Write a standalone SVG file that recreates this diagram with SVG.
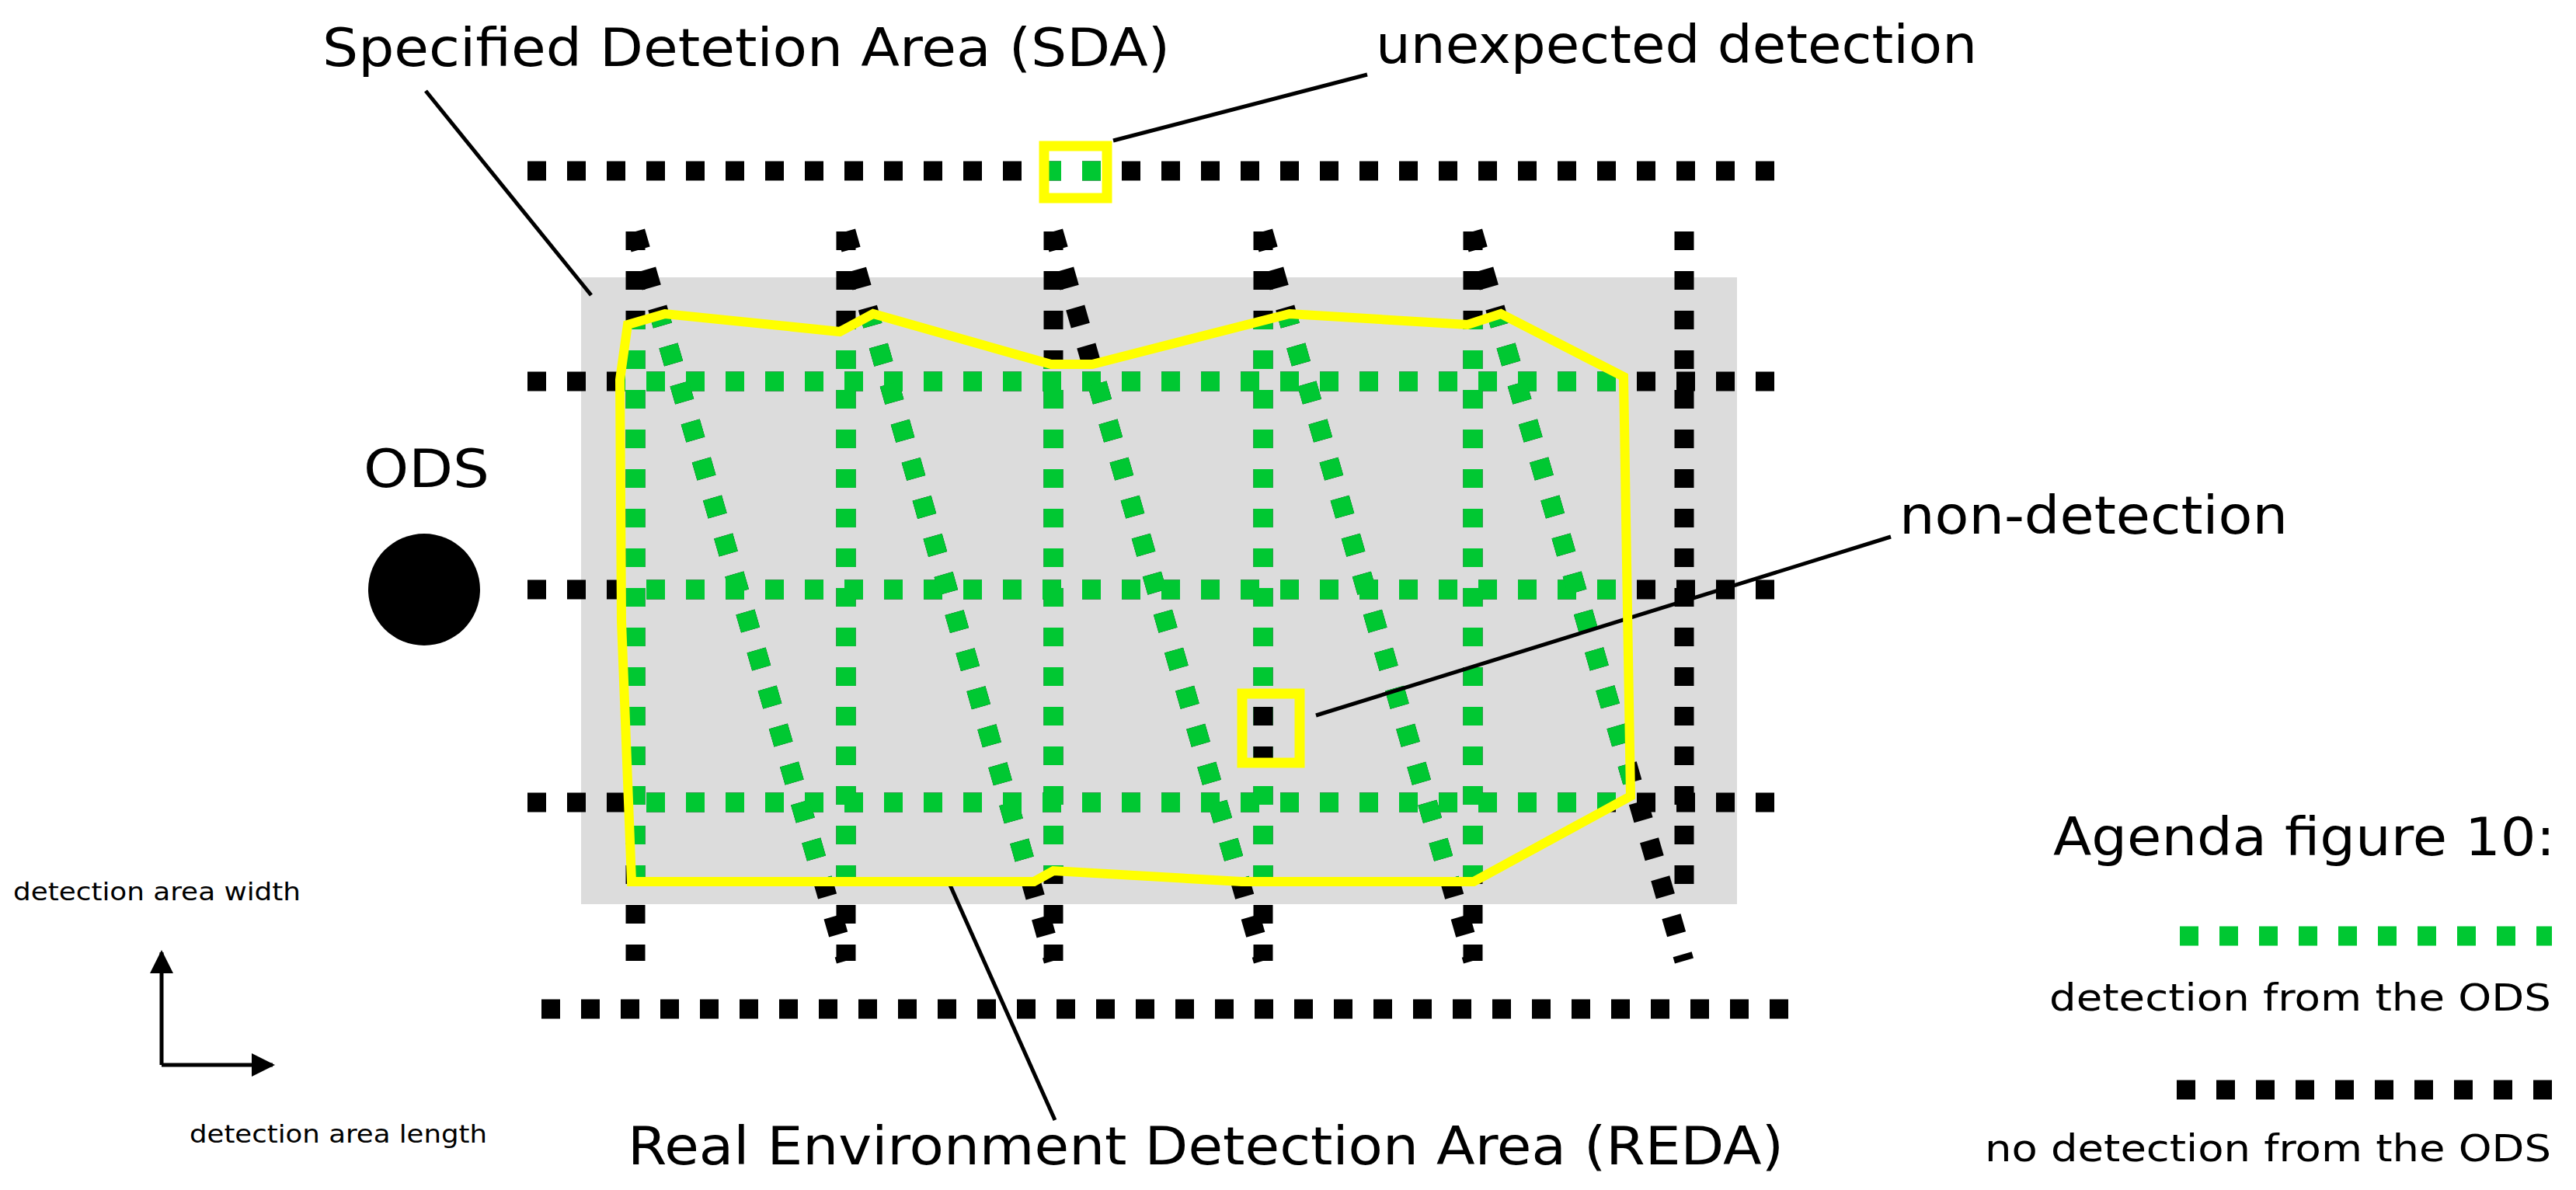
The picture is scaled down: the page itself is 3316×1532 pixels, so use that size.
<svg xmlns="http://www.w3.org/2000/svg" xmlns:xlink="http://www.w3.org/1999/xlink" width="3316" height="1532" viewBox="0 0 3316 1532">
<style>
.big{font-family:"DejaVu Sans",Verdana,sans-serif;font-size:68px;fill:#000}
.small{font-family:"DejaVu Sans",Verdana,sans-serif;font-size:48px;fill:#000}
.tiny{font-family:"DejaVu Sans",Verdana,sans-serif;font-size:32px;fill:#000}
.lead{stroke:#000;stroke-width:5;fill:none}
.ybox{fill:none;stroke:#ffff00;stroke-width:13}
</style>
<defs>
<g id="grid" fill="none" stroke-width="25" stroke-dasharray="24 27">
<line x1="679" y1="491" x2="2307" y2="491"/>
<line x1="679" y1="759" x2="2307" y2="759"/>
<line x1="679" y1="1033" x2="2307" y2="1033"/>
<line x1="818" y1="298" x2="818" y2="1237"/>
<line x1="1089" y1="298" x2="1089" y2="1237"/>
<line x1="1356" y1="298" x2="1356" y2="1237"/>
<line x1="1626" y1="298" x2="1626" y2="1237"/>
<line x1="1896" y1="298" x2="1896" y2="1237"/>
<line x1="2168" y1="298" x2="2168" y2="1160"/>
<line x1="818" y1="298" x2="1089" y2="1237"/>
<line x1="1089" y1="298" x2="1356" y2="1237"/>
<line x1="1356" y1="298" x2="1626" y2="1237"/>
<line x1="1626" y1="298" x2="1896" y2="1237"/>
<line x1="1896" y1="298" x2="2168" y2="1237"/>
</g>
<line id="topline" x1="679" y1="220" x2="2307" y2="220" fill="none" stroke-width="25" stroke-dasharray="24 27"/>
<clipPath id="reda"><polygon points="808,418 856,404 1081,427 1124,404 1353,469 1406,469 1660,404 1889,418 1932,404 2090,485 2099,1025 1897,1135 1598,1135 1356,1121 1331,1135 813,1135 800,800 798,489"/></clipPath>
<clipPath id="nd"><rect x="1599" y="893" width="74" height="89"/></clipPath>
<clipPath id="ud"><rect x="1344" y="188" width="81" height="67"/></clipPath>
<marker id="ah" viewBox="0 0 10 10" refX="9" refY="5" markerWidth="10" markerHeight="6" markerUnits="strokeWidth" orient="auto"><path d="M0,0 L10,5 L0,10 z" fill="#000"/></marker>
</defs>
<rect id="sda" x="748" y="357" width="1488" height="807" fill="#dcdcdc"/>
<g id="connectors">
<use xlink:href="#topline" stroke="#000"/>
<line x1="697" y1="1299" x2="2307" y2="1299" stroke="#000" stroke-width="25" stroke-dasharray="24 27"/>
<use xlink:href="#grid" stroke="#000"/>
<g clip-path="url(#reda)"><use xlink:href="#grid" stroke="#00c832"/></g>
<g clip-path="url(#nd)"><use xlink:href="#grid" stroke="#000"/></g>
<g clip-path="url(#ud)"><use xlink:href="#topline" stroke="#00c832"/></g>
<line class="lead" x1="548" y1="117" x2="761" y2="380"/>
<line class="lead" x1="1433" y1="181" x2="1760" y2="96"/>
<line class="lead" x1="1694" y1="921" x2="2434" y2="691"/>
<line class="lead" x1="1221" y1="1135" x2="1358" y2="1442"/>
<line x1="208" y1="1371" x2="208" y2="1226" stroke="#000" stroke-width="5" marker-end="url(#ah)"/>
<line x1="208" y1="1371" x2="351" y2="1371" stroke="#000" stroke-width="5" marker-end="url(#ah)"/>
</g>
<g id="reda-outline"><polygon points="808,418 856,404 1081,427 1124,404 1353,469 1406,469 1660,404 1889,418 1932,404 2090,485 2099,1025 1897,1135 1598,1135 1356,1121 1331,1135 813,1135 800,800 798,489" fill="none" stroke="#ffff00" stroke-width="12" stroke-linejoin="miter"/></g>
<g id="unexpected-box"><rect class="ybox" x="1344" y="188" width="81" height="67"/></g>
<g id="nondetection-box"><rect class="ybox" x="1599" y="893" width="74" height="89"/></g>
<g id="ods"><circle cx="546" cy="759" r="72" fill="#000"/><text class="big" x="468" y="627" textLength="162" lengthAdjust="spacingAndGlyphs">ODS</text></g>
<g id="labels">
<text class="big" x="415" y="85" textLength="1091" lengthAdjust="spacingAndGlyphs">Specified Detetion Area (SDA)</text>
<text class="big" x="1771" y="81" textLength="774" lengthAdjust="spacingAndGlyphs">unexpected detection</text>
<text class="big" x="2445" y="687" textLength="500" lengthAdjust="spacingAndGlyphs">non-detection</text>
<text class="big" x="808" y="1499" textLength="1488" lengthAdjust="spacingAndGlyphs">Real Environment Detection Area (REDA)</text>
<text class="tiny" x="17" y="1159" textLength="370" lengthAdjust="spacingAndGlyphs">detection area width</text>
<text class="tiny" x="244" y="1471" textLength="383" lengthAdjust="spacingAndGlyphs">detection area length</text>
</g>
<g id="legend">
<text class="big" x="2643" y="1101" textLength="646" lengthAdjust="spacingAndGlyphs">Agenda figure 10:</text>
<line x1="2806" y1="1205" x2="3285" y2="1205" stroke="#00c832" stroke-width="25" stroke-dasharray="24 27"/>
<text class="small" x="2638" y="1301" textLength="646" lengthAdjust="spacingAndGlyphs">detection from the ODS</text>
<line x1="2802" y1="1403" x2="3285" y2="1403" stroke="#000" stroke-width="25" stroke-dasharray="24 27"/>
<text class="small" x="2555" y="1495" textLength="729" lengthAdjust="spacingAndGlyphs">no detection from the ODS</text>
</g>
</svg>
